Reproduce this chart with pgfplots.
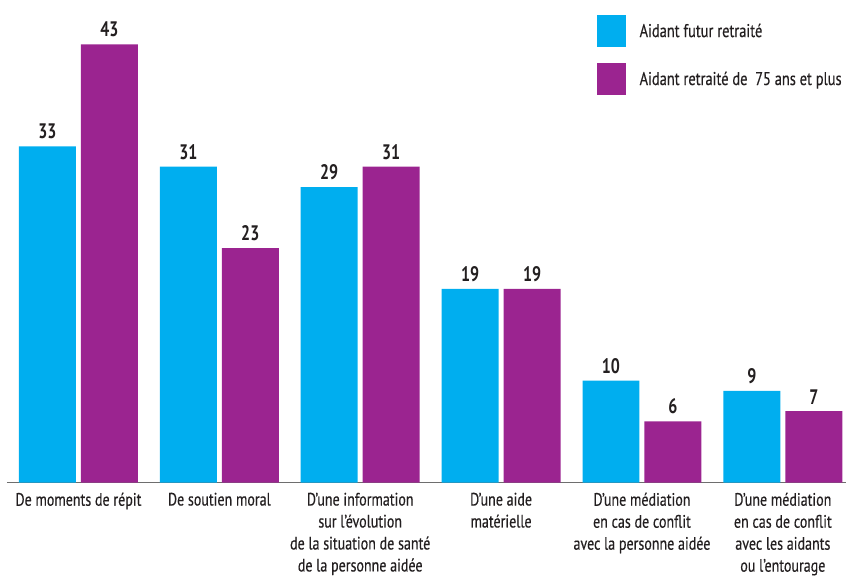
\documentclass[border=0pt]{standalone}
\usepackage{pgfplots}
\pgfplotsset{compat=1.18}
\usepackage{fontspec}
\setmainfont[FakeStretch=0.78,FakeBold=0.4]{PT Sans}
\newfontfamily\valfont[FakeStretch=0.76]{PT Sans Bold}
\definecolor{cyanb}{HTML}{00AEEF}
\definecolor{purp}{HTML}{9B2490}
\definecolor{axisgray}{HTML}{6E6E6E}
\definecolor{txt}{HTML}{231F20}
\begin{document}
\begin{tikzpicture}
\begin{axis}[
  scale only axis, width=840pt, height=483pt,
  xmin=-0.507, xmax=5.45, ymin=0, ymax=47.35,
  clip=false,
  axis x line=bottom, axis y line=none,
  x axis line style={-, draw=axisgray, line width=1.5pt},
  xtick={0,...,5}, major tick length=0pt,
  xticklabels={{De moments de répit},{De soutien moral},{D’une information\\sur l’évolution\\de la situation de santé\\de la personne aidée},{D’une aide\\matérielle},{D’une médiation\\en cas de conflit\\avec la personne aidée},{D'une médiation\\en cas de conflit\\avec les aidants\\ou l’entourage}},
  xticklabel style={align=center, font=\fontsize{18}{22}\selectfont, text=txt, anchor=north, inner sep=0pt, yshift=-10pt},
  ybar, bar width=57pt,
  nodes near coords={\valfont\pgfmathprintnumber[assume math mode=true]{\pgfplotspointmeta}},
  every node near coord/.append style={font=\fontsize{21}{21}\selectfont, text=txt, inner sep=0pt, anchor=south, yshift=7pt},
  legend style={at={(rel axis cs:0.7024,0.969)}, anchor=north west, draw=none, fill=none, inner sep=0pt, font=\fontsize{18.5}{18}\selectfont, text=txt, row sep=16pt, cells={anchor=west}, /tikz/every odd column/.append style={column sep=12pt}},
  legend image code/.code={\fill[#1] (0pt,-16pt) rectangle (29pt,16pt);},
]
\addplot[fill=cyanb, draw=none, bar shift=-31pt] coordinates {(0,33) (1,31) (2,29) (3,19) (4,10) (5,9)};
\addplot[fill=purp, draw=none, bar shift=31pt] coordinates {(0,43) (1,23) (2,31) (3,19) (4,6) (5,7)};
\legend{Aidant futur retraité, Aidant retraité de\ \ 75 ans et plus}
\end{axis}
\path (current axis.south west) ++(-7pt,-94pt) (current axis.north east);
\end{tikzpicture}
\end{document}
